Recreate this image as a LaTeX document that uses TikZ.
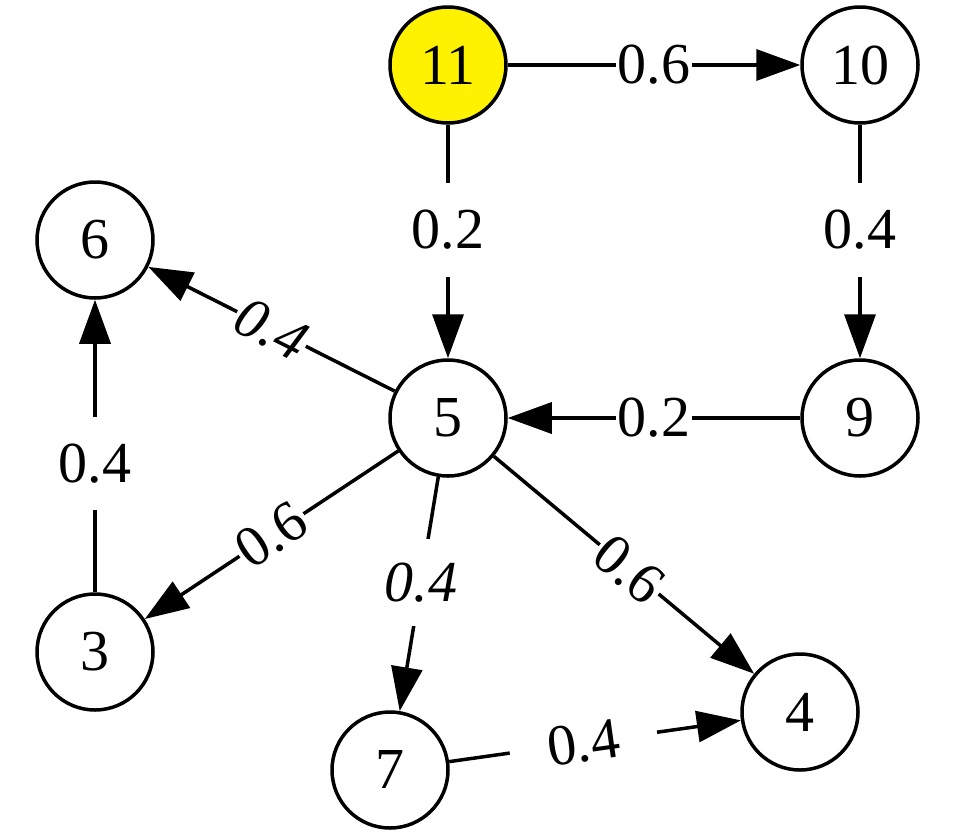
\documentclass[tikz,border=0pt]{standalone}
\usepackage{fontspec}
\setmainfont{Liberation Serif}
\usetikzlibrary{arrows.meta}
\begin{document}
\begin{tikzpicture}[x=1pt,y=-1pt,
  vert/.style={circle,draw,line width=3.5pt,minimum size=116pt,inner sep=0pt,font=\fontsize{58}{60}\selectfont},
  conn/.style={line width=3.5pt,-{Triangle[length=44pt,width=31pt]}},
  wlab/.style={fill=white,inner xsep=2pt,inner ysep=1pt,font=\fontsize{58}{60}\selectfont},
  vlab/.style={wlab,inner ysep=27pt},
  itlab/.style={wlab,font=\fontsize{58}{60}\selectfont\itshape}]
\useasboundingbox (0,0) rectangle (956,838);
\node[vert,fill=yellow] (n11) at (448,65) {11};
\node[vert] (n10) at (860,65) {10};
\node[vert] (n6) at (95,240) {6};
\node[vert] (n5) at (448,418) {5};
\node[vert] (n9) at (860,418) {9};
\node[vert] (n3) at (95,652) {3};
\node[vert] (n7) at (390,770) {7};
\node[vert] (n4) at (800,712) {4};
\draw[conn] (n11) -- node[wlab,pos=0.5] {0.6} (n10);
\draw[conn] (n11) -- node[vlab,pos=0.45] {0.2} (n5);
\draw[conn] (n10) -- node[vlab,pos=0.45] {0.4} (n9);
\draw[conn] (n9) -- node[wlab,pos=0.5] {0.2} (n5);
\draw[conn] (n3) -- node[vlab,pos=0.44] {0.4} (n6);
\draw[conn] (n5) -- node[itlab,sloped,pos=0.5] {0.4} (n6);
\draw[conn] (n5) -- node[wlab,sloped,pos=0.5] {0.6} (n3);
\draw[conn] (n5) -- node[itlab,pos=0.45,inner ysep=24pt] {0.4} (n7);
\draw[conn] (n5) -- node[wlab,sloped,pos=0.52] {0.6} (n4);
\draw[conn] (n7) -- node[wlab,sloped,pos=0.46,inner xsep=38pt] {0.4} (n4);
\end{tikzpicture}
\end{document}
